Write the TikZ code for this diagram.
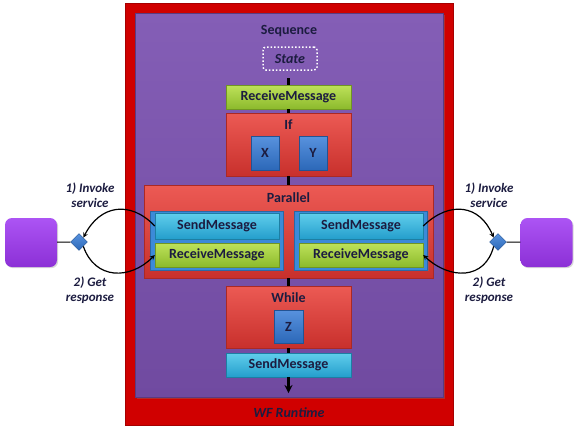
\documentclass[tikz,border=0pt]{standalone}
\usepackage{fontspec}
\setmainfont{Carlito}
\usetikzlibrary{arrows, positioning, shapes.geometric, shadows}

\definecolor{runtimered}{RGB}{208,0,0}
\definecolor{seqtop}{RGB}{132,94,182}
\definecolor{seqbot}{RGB}{112,74,160}
\definecolor{acttop}{RGB}{236,90,84}
\definecolor{actbot}{RGB}{200,48,44}
\definecolor{recvtop}{RGB}{190,226,90}
\definecolor{recvbot}{RGB}{140,186,44}
\definecolor{sendtop}{RGB}{96,206,236}
\definecolor{sendbot}{RGB}{36,158,204}
\definecolor{leaftop}{RGB}{88,146,222}
\definecolor{leafbot}{RGB}{44,104,184}
\definecolor{grpblue}{RGB}{60,138,216}
\definecolor{clienttop}{RGB}{172,84,244}
\definecolor{clientbot}{RGB}{140,48,214}
\definecolor{inkblue}{RGB}{28,28,64}

\begin{document}
\begin{tikzpicture}[
            x=1pt, y=-1pt,
            >=stealth,
            font=\fontsize{14}{16}\selectfont\bfseries,
            text=inkblue,
            shade box/.style={rectangle, inner sep=0pt,
                drop shadow={opacity=0.35, shadow xshift=1.2pt, shadow yshift=-1.2pt}},
            recv/.style={shade box, top color=recvtop, bottom color=recvbot,
                draw=recvbot!80!black, minimum width=125, minimum height=24},
            send/.style={shade box, top color=sendtop, bottom color=sendbot,
                draw=sendbot!80!black, minimum width=125, minimum height=24},
            activity/.style={shade box, top color=acttop, bottom color=actbot,
                draw=actbot!85!black, minimum width=125},
            leaf/.style={shade box, top color=leaftop, bottom color=leafbot,
                draw=leafbot!80!black, minimum width=28, minimum height=34},
            group/.style={shade box, fill=grpblue, draw=grpblue!75!black,
                minimum width=133, minimum height=59},
            client/.style={rectangle, rounded corners=7, top color=clienttop,
                bottom color=clientbot, minimum width=52, minimum height=49,
                drop shadow={opacity=0.3, shadow xshift=1.2pt, shadow yshift=-1.2pt}},
            port/.style={diamond, inner sep=0pt, minimum size=17,
                top color=leaftop, bottom color=leafbot, draw=leafbot!80!black},
            flow/.style={line width=2.5pt},
            call/.style={->, line width=1.2pt},
            note/.style={font=\fontsize{13}{15}\selectfont\bfseries\itshape,
                align=center}]
            \useasboundingbox (0,0) rectangle (578,432);
            \fill [white] (0,0) rectangle (578,432);

            % runtime and sequence
            \node [rectangle, fill=runtimered, draw=runtimered!80!black,
                minimum width=328, minimum height=422] (runtime) at (289,214) {};
            \node [rectangle, top color=seqtop, bottom color=seqbot,
                draw=seqbot!80!black, minimum width=308, minimum height=384,
                drop shadow={opacity=0.35}] (seq) at (289,205) {};
            \node (seqlbl) at (289,31) {Sequence};
            \node [draw=white, dotted, line width=1.5pt, rounded corners=3,
                minimum width=54, minimum height=23, font=\fontsize{14}{16}\selectfont\bfseries\itshape]
                (state) at (290,58.5) {State};
            \node (wflbl) at (289,413) {\itshape WF Runtime};

            % activities
            \node [recv] (recv1) at (288.5,97) {ReceiveMessage};
            \node [activity, minimum height=63] (if) at (288.5,144.5) {};
            \node (iflbl) at (288.5,125) {If};
            \node [leaf] (x) at (265,153) {X};
            \node [leaf] (y) at (313,153) {Y};

            \node [activity, minimum width=289, minimum height=93] (par) at (288.5,231.5) {};
            \node (parlbl) at (288.5,198) {Parallel};
            \node [group] (grpl) at (216.5,240.5) {};
            \node [send, minimum width=124, minimum height=26] (sendl) at (217,226) {SendMessage};
            \node [recv, minimum width=124] (recvl) at (217,255) {ReceiveMessage};
            \node [group] (grpr) at (361,240.5) {};
            \node [send, minimum width=124, minimum height=26] (sendr) at (361,226) {SendMessage};
            \node [recv, minimum width=124] (recvr) at (361,255) {ReceiveMessage};

            \node [activity, minimum height=62] (while) at (288.5,317) {};
            \node (whilelbl) at (288.5,298) {While};
            \node [leaf, minimum width=29, minimum height=33] (z) at (288.5,326.5) {Z};
            \node [send] (send2) at (288.5,365) {SendMessage};

            \coordinate (statefoot) at (288.5,78);
            \coordinate (seqend) at (288.5,393);
            \path [flow] (statefoot) edge (recv1)
                         (recv1) edge (if)
                         (if) edge (par)
                         (par) edge (while)
                         (while) edge (send2)
                         (send2) edge [->] (seqend);

            % clients
            \node [client] (cl) at (31,242.5) {};
            \node [port] (pl) at (79,242) {};
            \node [client] (cr) at (546.5,242.5) {};
            \node [port] (pr) at (498,242) {};
            \draw [line width=1pt] (cl) -- (pl);
            \draw [line width=1pt] (cr) -- (pr);

            \draw [call] (sendl.west) .. controls (130,200) and (100,205) .. (pl.north east);
            \draw [call] (pl.south east) .. controls (95,280) and (130,280) .. (recvl.west);
            \draw [call] (sendr.east) .. controls (450,200) and (480,205) .. (pr.north west);
            \draw [call] (pr.south west) .. controls (485,280) and (450,280) .. (recvr.east);

            \node [note] (invl) at (90,195) {1) Invoke\\service};
            \node [note] (getl) at (90,290) {2) Get\\response};
            \node [note] (invr) at (489,195) {1) Invoke\\service};
            \node [note] (getr) at (489,290) {2) Get\\response};
\end{tikzpicture}
\end{document}
